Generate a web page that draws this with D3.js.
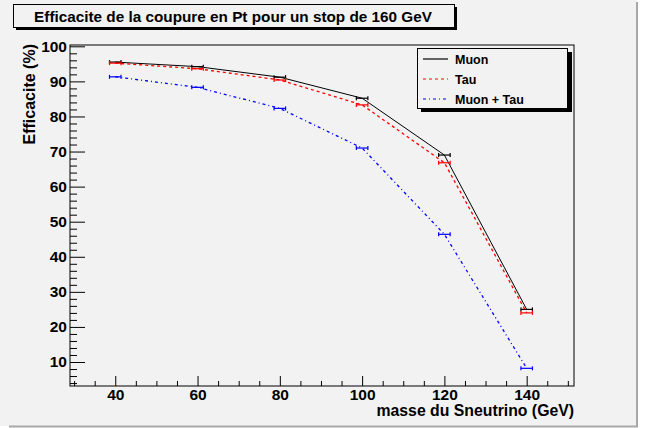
<!DOCTYPE html>
<meta charset="utf-8">
<script src="https://d3js.org/d3.v7.min.js"></script>
<style>
  body { margin: 0; background: #fff; }
  text { font-family: "Liberation Sans", Arial, Helvetica, sans-serif; font-weight: bold; }
</style>
<div id="chart"></div>
<script>
// data
var masses = [40, 60, 80, 100, 120, 140];
var muon = [95.5, 94.2, 91.2, 85.2, 69.0, 25.0];
var tau = [95.2, 93.6, 90.4, 83.3, 66.8, 24.0];
var muonTau = [91.3, 88.3, 82.3, 71.0, 46.4, 8.2];
var xErr = [1.4, 1.4, 1.4, 1.4, 1.4, 1.4];

var xTicks = [40, 60, 80, 100, 120, 140];
var yTicks = [10, 20, 30, 40, 50, 60, 70, 80, 90, 100];

var seriesNames = ["Muon", "Tau", "Muon + Tau"];

var W = 645, H = 428;
// frame edges (note: "top" is reserved on window)
var fLeft = 70, fRight = 574, fTop = 45, fBottom = 386;

var svg = d3.select("#chart").append("svg")
  .attr("width", W).attr("height", H);

// canvas background + bevel border
svg.append("rect").attr("x", 0).attr("y", 0).attr("width", 637).attr("height", 426)
  .attr("fill", "#f2f2f2");
svg.append("line").attr("x1", 637).attr("x2", 637).attr("y1", 2).attr("y2", 427)
  .attr("stroke", "#a8a8a8").attr("stroke-width", 2);
svg.append("line").attr("x1", 9).attr("x2", 638).attr("y1", 426.5).attr("y2", 426.5)
  .attr("stroke", "#a8a8a8").attr("stroke-width", 2);

var x = d3.scaleLinear().domain([29, 151.5]).range([fLeft, fRight]);
var y = d3.scaleLinear().domain([3.16, 100.37]).range([fBottom, fTop]);

// minor ticks
var xMinor = d3.range(30, 151, 5).filter(function(d) { return xTicks.indexOf(d) < 0; });
var yMinor = d3.range(4, 101, 2).filter(function(d) { return yTicks.indexOf(d) < 0; });

svg.append("g")
  .attr("transform", "translate(0," + fBottom + ")")
  .call(d3.axisBottom(x).tickValues(xMinor).tickSize(-5).tickFormat(""))
  .call(function(g) { g.select(".domain").remove(); });
svg.append("g")
  .attr("transform", "translate(" + fLeft + ",0)")
  .call(d3.axisLeft(y).tickValues(yMinor).tickSize(-7).tickFormat(""))
  .call(function(g) { g.select(".domain").remove(); });

// major ticks + labels
var gx = svg.append("g")
  .attr("transform", "translate(0," + fBottom + ")")
  .call(d3.axisBottom(x).tickValues(xTicks).tickSize(-10).tickPadding(3))
  .call(function(g) { g.select(".domain").remove(); });
gx.selectAll("text").attr("font-size", 15.5).attr("fill", "#000")
  .style("font-family", "'Liberation Sans', Arial, sans-serif").style("font-weight", "bold");

var gy = svg.append("g")
  .attr("transform", "translate(" + fLeft + ",0)")
  .call(d3.axisLeft(y).tickValues(yTicks).tickSize(-15).tickPadding(3))
  .call(function(g) { g.select(".domain").remove(); });
gy.selectAll("text").attr("font-size", 15.5).attr("fill", "#000")
  .style("font-family", "'Liberation Sans', Arial, sans-serif").style("font-weight", "bold");

svg.selectAll(".tick line").attr("stroke", "#000");

// frame
svg.append("rect")
  .attr("x", fLeft).attr("y", fTop)
  .attr("width", fRight - fLeft).attr("height", fBottom - fTop)
  .attr("fill", "none").attr("stroke", "#000").attr("stroke-width", 1);

// axis titles
svg.append("text")
  .attr("x", fRight).attr("y", 416)
  .attr("text-anchor", "end").attr("font-size", 15.8)
  .text("masse du Sneutrino (GeV)");
svg.append("text")
  .attr("transform", "translate(35," + (fTop - 1) + ") rotate(-90)")
  .attr("text-anchor", "end").attr("font-size", 16)
  .text("Efficacite (%)");

// series
var series = [
  { name: seriesNames[0], values: muon, color: "#000", dash: null, width: 1 },
  { name: seriesNames[1], values: tau, color: "#ff0000", dash: "3,3", width: 1.3 },
  { name: seriesNames[2], values: muonTau, color: "#0000ff", dash: "3,3,1,3", width: 1.3 }
];

var line = d3.line()
  .x(function(d) { return x(d[0]); })
  .y(function(d) { return y(d[1]); });

series.forEach(function(s) {
  var pts = masses.map(function(m, i) { return [m, s.values[i]]; });
  svg.append("path")
    .datum(pts)
    .attr("d", line)
    .attr("fill", "none")
    .attr("stroke", s.color)
    .attr("stroke-width", s.width)
    .attr("stroke-dasharray", s.dash);

  // horizontal error bars with end caps
  var eb = svg.append("g").attr("stroke", s.color).attr("stroke-width", 1.2);
  masses.forEach(function(m, i) {
    var yy = y(s.values[i]);
    var x0 = x(m - xErr[i]), x1 = x(m + xErr[i]);
    eb.append("line").attr("x1", x0).attr("x2", x1).attr("y1", yy).attr("y2", yy);
    eb.append("line").attr("x1", x0).attr("x2", x0).attr("y1", yy - 2).attr("y2", yy + 2);
    eb.append("line").attr("x1", x1).attr("x2", x1).attr("y1", yy - 2).attr("y2", yy + 2);
  });
});

// title box
svg.append("rect").attr("x", 16).attr("y", 7).attr("width", 441).attr("height", 23).attr("fill", "#000");
svg.append("rect").attr("x", 13.5).attr("y", 4.5).attr("width", 441).attr("height", 23)
  .attr("fill", "#f2f2f2").attr("stroke", "#000").attr("stroke-width", 1);
svg.append("text")
  .attr("x", 233).attr("y", 21.5)
  .attr("text-anchor", "middle").attr("font-size", 15.3)
  .text("Efficacite de la coupure en Pt pour un stop de 160 GeV");

// legend
var lg = svg.append("g");
lg.append("rect").attr("x", 421).attr("y", 52).attr("width", 151).attr("height", 60).attr("fill", "#000");
lg.append("rect").attr("x", 417.5).attr("y", 48.5).attr("width", 150).attr("height", 60)
  .attr("fill", "#f2f2f2").attr("stroke", "#000").attr("stroke-width", 1);
series.forEach(function(s, i) {
  var ry = 59 + i * 20;
  lg.append("line").attr("x1", 423).attr("x2", 448).attr("y1", ry).attr("y2", ry)
    .attr("stroke", s.color).attr("stroke-width", 1.2).attr("stroke-dasharray", s.dash);
  lg.append("text").attr("x", 455).attr("y", ry + 4.5)
    .attr("font-size", 12.5).text(s.name);
});
</script>
